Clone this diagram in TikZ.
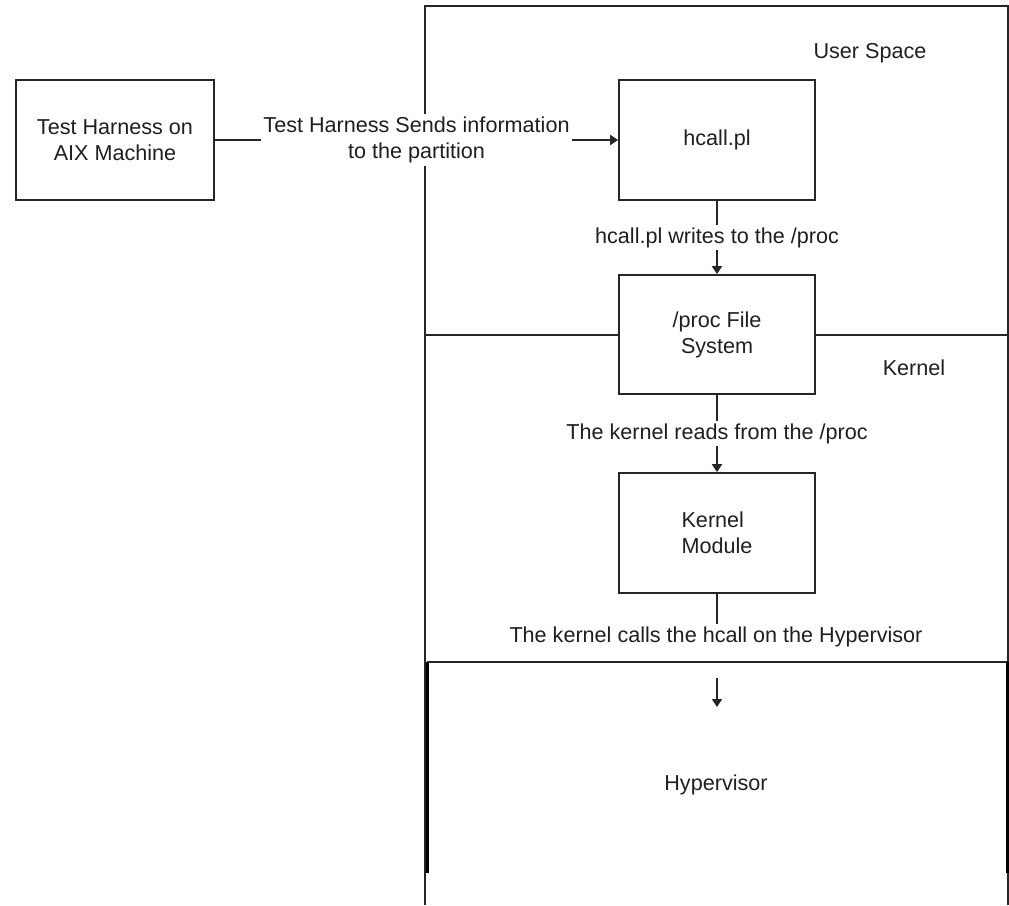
\documentclass[tikz,border=0pt]{standalone}
\usepackage{fontspec}
\setmainfont{Liberation Sans}
\usetikzlibrary{arrows.meta}
\begin{document}
\begin{tikzpicture}[x=1pt,y=-1pt,
  every node/.style={font=\fontsize{21.6}{26}\selectfont, text=black!88},
  line/.style={line width=1.7pt, draw=black!85},
  heavy/.style={line width=3pt, draw=black},
  box/.style={line, fill=white, minimum width=196pt, minimum height=120pt,
    inner sep=0pt, align=center},
  lab/.style={fill=white, inner xsep=2pt, inner ysep=2.5pt, align=center},
  plain/.style={inner sep=0pt},
  arr/.style={line, -{Triangle[length=8pt,width=10pt]}}
]
\useasboundingbox (0,0) rectangle (1009,905);

% partition frame and the user space / kernel divider
\draw[line] (425,905) -- (425,6) -- (1008,6) -- (1008,905);
\draw[line] (425,335) -- (1008,335);

% hypervisor region
\draw[line] (427,662) -- (1007,662);
\draw[heavy] (427,662) -- (427,873);
\draw[heavy] (1007,662) -- (1007,873);

% boxes
\node[box, minimum width=198pt] (th) at (115,140) {Test Harness on\\AIX Machine};
\node[box] (hcall) at (717,140) {hcall.pl};
\node[box, minimum height=119pt] (proc) at (717,334.5) {/proc File\\System};
\node[box, align=left] (km) at (717,533) {Kernel\\Module};

% region labels
\node[plain] (us) at (870,53) {User Space};
\node[plain] (kern) at (914,368) {Kernel};
\node[plain] (hv) at (716,785) {Hypervisor};

% connectors
\draw[arr] (th.east) -- node[lab] {Test Harness Sends information\\to the partition} (hcall.west);
\draw[arr] (hcall.south) -- node[lab] {hcall.pl writes to the /proc} (proc.north);
\draw[arr] (proc.south) -- node[lab] {The kernel reads from the /proc} (km.north);

\node[lab] (calls) at (716,637) {The kernel calls the hcall on the Hypervisor};
\draw[line] (km.south) -- (km.south |- calls.north);
\coordinate (hvA) at (717,678);
\coordinate (hvB) at (717,707);
\draw[arr] (hvA) -- (hvB);
\end{tikzpicture}
\end{document}
